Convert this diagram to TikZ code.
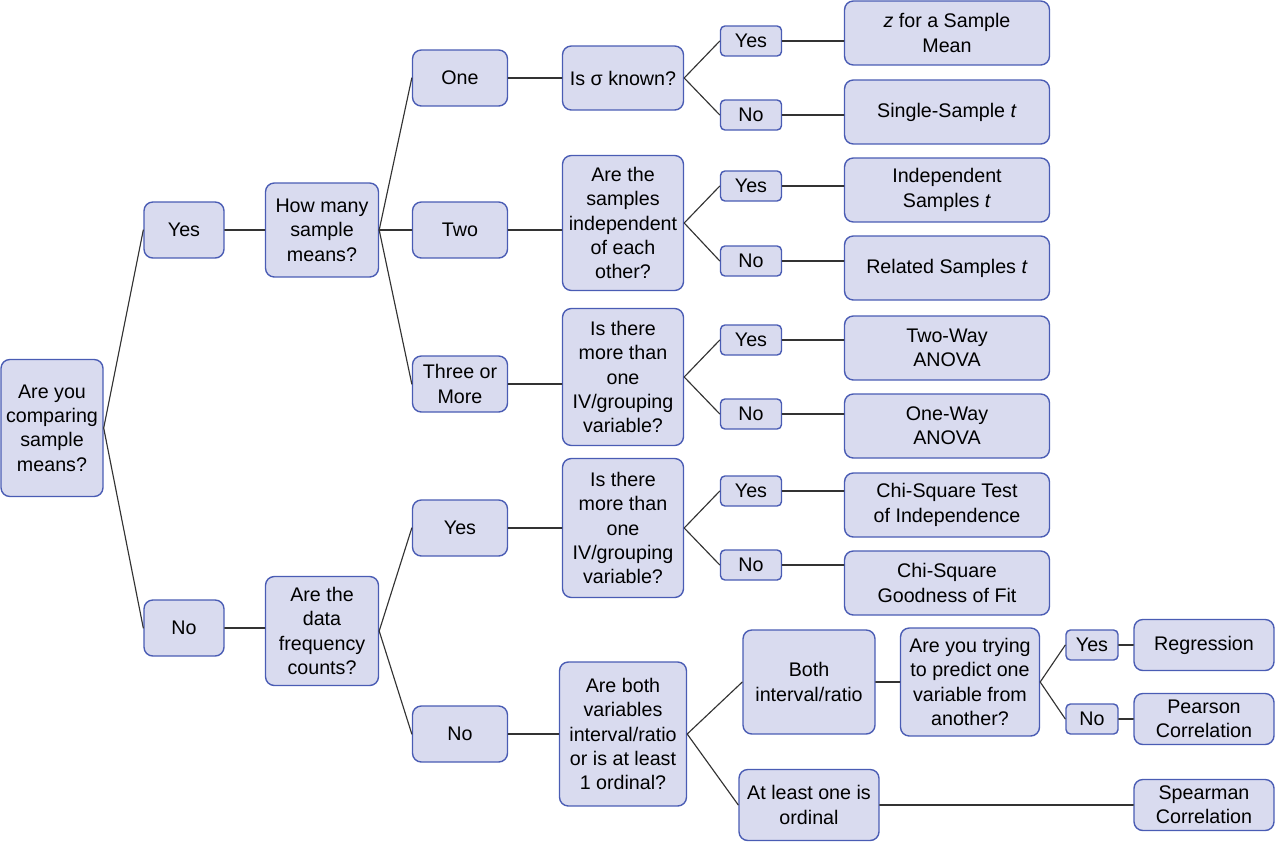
\documentclass[tikz,border=0pt]{standalone}
\usepackage{fontspec}
\setmainfont{Liberation Sans}
\definecolor{boxfill}{HTML}{D9DBEF}
\definecolor{boxline}{HTML}{4A5CB4}
\definecolor{linkline}{HTML}{333333}
\tikzset{
  box/.style={draw=boxline, fill=boxfill, line width=0.8pt, rounded corners=5pt,
    align=center, inner sep=1pt, font=\fontsize{11.2}{13.9}\selectfont},
  wh/.style 2 args={minimum width=#1cm, minimum height=#2cm},
  tiny/.style={box, rounded corners=2.5pt, wh={1.22}{0.6}},
  link/.style={draw=linkline, line width=0.65pt},
}
\begin{document}
\begin{tikzpicture}[x=0.02cm, y=-0.02cm, line cap=round, line join=round]
    \useasboundingbox (0,0) rectangle (1275,842);
    % first level
    \node[box, wh={2.04}{2.74}] (cmp) at (52,428) {Are you\\comparing\\sample\\means?};
    \node[box, wh={1.6}{1.12}] (yesA) at (184,230) {Yes};
    \node[box, wh={1.6}{1.12}] (noA) at (184,628) {No};
    \node[box, wh={2.26}{1.88}] (howmany) at (322,230) {How many\\sample\\means?};
    \node[box, wh={2.26}{2.18}] (freq) at (322,631) {Are the\\data\\frequency\\counts?};
    % sample means branch
    \node[box, wh={1.9}{1.12}] (one) at (460,78) {One};
    \node[box, wh={1.9}{1.12}] (two) at (460,230) {Two};
    \node[box, wh={1.9}{1.12}] (three) at (460,384) {Three or\\More};
    \node[box, wh={2.42}{1.28}] (sigma) at (623,78) {Is σ known?};
    \node[box, wh={2.42}{2.7}] (indep) at (623,223) {Are the\\samples\\independent\\of each\\other?};
    \node[box, wh={2.42}{2.74}] (ivA) at (623,377) {Is there\\more than\\one\\IV/grouping\\variable?};
    \node[tiny] (sigyes) at (751,41) {Yes};
    \node[tiny] (signo) at (751,115) {No};
    \node[tiny] (indyes) at (751,186) {Yes};
    \node[tiny] (indno) at (751,261) {No};
    \node[tiny] (ivAyes) at (751,340) {Yes};
    \node[tiny] (ivAno) at (751,414) {No};
    \node[box, wh={4.1}{1.28}] (zmean) at (947,33) {\textit{z} for a Sample\\Mean};
    \node[box, wh={4.1}{1.28}] (singlet) at (947,112) {Single-Sample \textit{t}};
    \node[box, wh={4.1}{1.28}] (indt) at (947,190) {Independent\\Samples \textit{t}};
    \node[box, wh={4.1}{1.28}] (relt) at (947,268) {Related Samples \textit{t}};
    \node[box, wh={4.1}{1.28}] (twoway) at (947,348) {Two-Way\\ANOVA};
    \node[box, wh={4.1}{1.28}] (oneway) at (947,426) {One-Way\\ANOVA};
    % frequency branch
    \node[box, wh={1.9}{1.12}] (freqyes) at (460,528) {Yes};
    \node[box, wh={1.9}{1.12}] (freqno) at (460,734) {No};
    \node[box, wh={2.42}{2.78}] (ivB) at (623,528) {Is there\\more than\\one\\IV/grouping\\variable?};
    \node[tiny] (ivByes) at (751,491) {Yes};
    \node[tiny] (ivBno) at (751,565) {No};
    \node[box, wh={4.1}{1.28}] (chiind) at (947,505) {Chi-Square Test\\of Independence};
    \node[box, wh={4.1}{1.28}] (chigof) at (947,583) {Chi-Square\\Goodness of Fit};
    \node[box, wh={2.54}{2.88}] (both) at (623,734) {Are both\\variables\\interval/ratio\\or is at least\\1 ordinal?};
    \node[box, wh={2.64}{2.08}] (bothint) at (809,682) {Both\\interval/ratio};
    \node[box, wh={2.8}{1.42}] (ordinal) at (809,805) {At least one is\\ordinal};
    \node[box, wh={2.78}{2.16}] (predict) at (970,682) {Are you trying\\to predict one\\variable from\\another?};
    \node[tiny, wh={1.04}{0.6}] (predyes) at (1092,645) {Yes};
    \node[tiny, wh={1.04}{0.6}] (predno) at (1092,719) {No};
    \node[box, wh={2.8}{1.02}] (regr) at (1204,645) {Regression};
    \node[box, wh={2.8}{1.02}] (pearson) at (1204,719) {Pearson\\Correlation};
    \node[box, wh={2.8}{1.02}] (spearman) at (1204,805) {Spearman\\Correlation};
    % fanning connectors
    \foreach \a/\b in {cmp/yesA, cmp/noA, howmany/one, howmany/two, howmany/three,
      sigma/sigyes, sigma/signo, indep/indyes, indep/indno, ivA/ivAyes, ivA/ivAno,
      freq/freqyes, freq/freqno, ivB/ivByes, ivB/ivBno, both/bothint, both/ordinal,
      predict/predyes, predict/predno}
      \draw[link] (\a.east) -- (\b.west);
    % straight connectors
    \foreach \a/\b in {yesA/howmany, noA/freq, one/sigma, two/indep, three/ivA,
      sigyes/zmean, signo/singlet, indyes/indt, indno/relt, ivAyes/twoway, ivAno/oneway,
      freqyes/ivB, freqno/both, ivByes/chiind, ivBno/chigof, bothint/predict,
      predyes/regr, predno/pearson, ordinal/spearman}
      \draw[link] (\a.east) -- (\a.east -| \b.west);
\end{tikzpicture}
\end{document}
